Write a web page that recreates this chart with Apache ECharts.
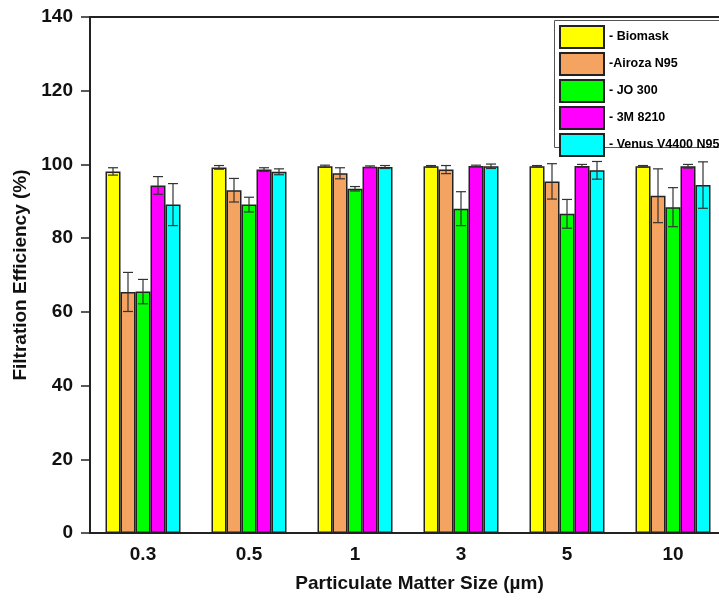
<!DOCTYPE html>
<html>
<head>
<meta charset="utf-8">
<script src="https://cdn.jsdelivr.net/npm/echarts@6/dist/echarts.min.js"></script>
<style>
  html, body { margin: 0; padding: 0; background: #fff; }
  #main { width: 719px; height: 604px; }
</style>
</head>
<body>
<div id="main"></div>
<script>
var categories = ['0.3', '0.5', '1', '3', '5', '10'];
var yTicks = [0, 20, 40, 60, 80, 100, 120, 140];

var seriesNames = ['- Biomask', '-Airoza N95', '- JO 300', '- 3M 8210', '- Venus V4400 N95'];
var seriesColors = ['#FFFF00', '#F4A460', '#00FF00', '#FF00FF', '#00FFFF'];

var biomask    = [98.1, 99.2, 99.5, 99.5, 99.5, 99.5];
var biomaskErr = [1.0, 0.5, 0.3, 0.2, 0.2, 0.2];
var airoza     = [65.4, 93.0, 97.6, 98.6, 95.4, 91.5];
var airozaErr  = [5.3, 3.2, 1.5, 1.1, 4.8, 7.3];
var jo300      = [65.5, 89.1, 93.4, 88.0, 86.6, 88.4];
var jo300Err   = [3.3, 2.0, 0.6, 4.6, 3.9, 5.3];
var m8210      = [94.3, 98.6, 99.4, 99.6, 99.6, 99.5];
var m8210Err   = [2.4, 0.5, 0.2, 0.2, 0.4, 0.5];
var venus      = [89.1, 98.0, 99.3, 99.5, 98.4, 94.4];
var venusErr   = [5.7, 0.8, 0.4, 0.6, 2.4, 6.3];

var values = [biomask, airoza, jo300, m8210, venus];
var errors = [biomaskErr, airozaErr, jo300Err, m8210Err, venusErr];

var font = '"Liberation Sans", Arial, sans-serif';
var barW = 15;

var chart = echarts.init(document.getElementById('main'));

function errSeries(k) {
    var offset = (k - 2) * barW;
    var data = values[k].map(function (v, i) { return [i, v, errors[k][i]]; });
    return {
        type: 'custom',
        z: 10,
        silent: true,
        data: data,
        renderItem: function (params, api) {
            var i = api.value(0), v = api.value(1), e = api.value(2);
            var top = api.coord([i, v + e]);
            var bot = api.coord([i, v - e]);
            var x = top[0] + offset;
            var cap = 5;
            var st = { stroke: '#333', lineWidth: 1.2 };
            return {
                type: 'group',
                children: [
                    { type: 'line', shape: { x1: x, y1: top[1], x2: x, y2: bot[1] }, style: st },
                    { type: 'line', shape: { x1: x - cap, y1: top[1], x2: x + cap, y2: top[1] }, style: st },
                    { type: 'line', shape: { x1: x - cap, y1: bot[1], x2: x + cap, y2: bot[1] }, style: st }
                ]
            };
        }
    };
}

var series = [];
for (var k = 0; k < values.length; k++) {
    series.push({
        name: seriesNames[k],
        type: 'bar',
        barWidth: barW,
        barGap: 0,
        data: values[k],
        itemStyle: { color: seriesColors[k], borderColor: '#222', borderWidth: 1.5 }
    });
}
for (var k = 0; k < values.length; k++) {
    series.push(errSeries(k));
}

chart.setOption({
    animation: false,
    textStyle: { fontFamily: font },
    grid: {
        left: 90, top: 17, width: 636, height: 516,
        outerBoundsMode: 'none',
        containLabel: false,
        show: true, borderColor: '#222', borderWidth: 2, backgroundColor: 'transparent'
    },
    // legend frame runs off the right edge like the original
    graphic: [{
        type: 'rect',
        left: 554, top: 20,
        shape: { width: 200, height: 127 },
        style: { fill: '#fff', stroke: '#555', lineWidth: 1 },
        z: 50
    }],
    legend: {
        data: seriesNames,
        orient: 'vertical',
        left: 554,
        top: 20,
        padding: [5, 5, 2, 5],
        itemWidth: 44,
        itemHeight: 22,
        itemGap: 3,
        icon: 'rect',
        z: 60,
        textStyle: { fontFamily: font, fontWeight: 'bold', fontSize: 12.5, color: '#000' }
    },
    xAxis: {
        type: 'category',
        data: categories,
        name: 'Particulate Matter Size (\u00b5m)',
        nameLocation: 'middle',
        nameGap: 41,
        nameTextStyle: { fontFamily: font, fontWeight: 'bold', fontSize: 19, color: '#111', padding: [0, 0, 0, 23] },
        axisLine: { lineStyle: { color: '#222', width: 2 } },
        axisTick: { alignWithLabel: true, length: 9, lineStyle: { color: '#222', width: 1.5 } },
        axisLabel: { margin: 12, fontFamily: font, fontWeight: 'bold', fontSize: 19, color: '#111' }
    },
    yAxis: {
        type: 'value',
        min: yTicks[0],
        max: yTicks[yTicks.length - 1],
        interval: 20,
        name: 'Filtration Efficiency (%)',
        nameLocation: 'middle',
        nameGap: 60,
        nameTextStyle: { fontFamily: font, fontWeight: 'bold', fontSize: 19, color: '#111' },
        splitLine: { show: false },
        axisLine: { show: true, lineStyle: { color: '#222', width: 2 } },
        axisTick: { show: true, length: 9, lineStyle: { color: '#222', width: 1.5 } },
        axisLabel: { margin: 17, fontFamily: font, fontWeight: 'bold', fontSize: 19, color: '#111' }
    },
    series: series
});
</script>
</body>
</html>
